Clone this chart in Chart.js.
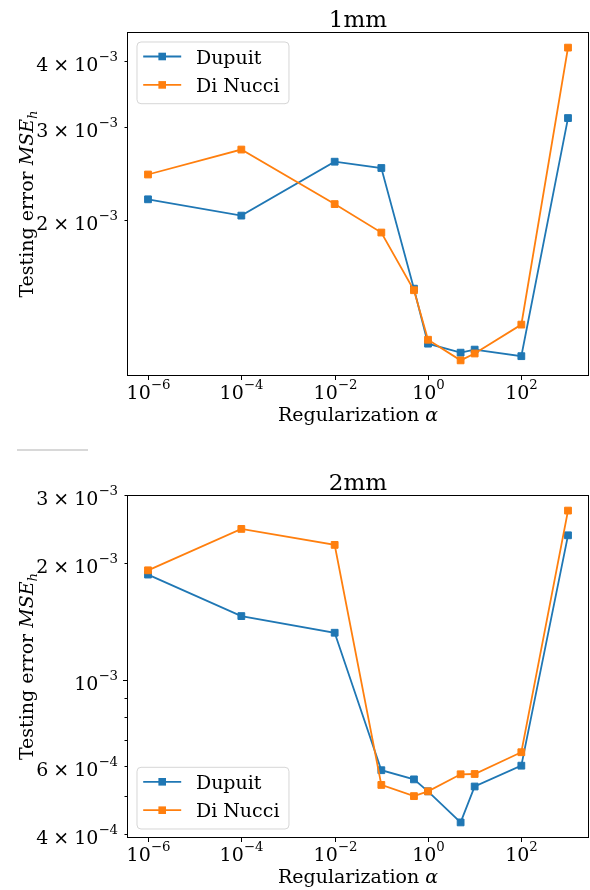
<!DOCTYPE html>
<html>
<head>
<meta charset="utf-8">
<script src="https://cdn.jsdelivr.net/npm/chart.js@4.4.1/dist/chart.umd.min.js"></script>
<style>
  html, body { margin: 0; padding: 0; background: #fff; }
  body { width: 590px; height: 890px; position: relative; overflow: hidden; }
  canvas { position: absolute; left: 0; }
  #chart1mm { top: 0; }
  #chart2mm { top: 445px; }
  .rule { position: absolute; left: 17px; top: 449px; width: 71px; height: 2px; background: #d8d8d8; }
</style>
</head>
<body>
<div class="rule"></div>
<canvas id="chart1mm" width="590" height="445"></canvas>
<canvas id="chart2mm" width="590" height="445"></canvas>

<script>
// regularization strengths
const alphas = [1e-6, 1e-4, 1e-2, 1e-1, 0.5, 1, 5, 10, 100, 1000];

// testing error, 1 mm
const dupuit1mm = [2.19e-3, 2.04e-3, 2.58e-3, 2.51e-3, 1.484e-3, 1.168e-3, 1.123e-3, 1.138e-3, 1.106e-3, 3.12e-3];
const diNucci1mm = [2.44e-3, 2.72e-3, 2.145e-3, 1.895e-3, 1.474e-3, 1.188e-3, 1.086e-3, 1.119e-3, 1.269e-3, 4.24e-3];

// testing error, 2 mm
const dupuit2mm = [1.872e-3, 1.462e-3, 1.324e-3, 5.84e-4, 5.53e-4, 5.15e-4, 4.28e-4, 5.30e-4, 6.00e-4, 2.365e-3];
const diNucci2mm = [1.92e-3, 2.457e-3, 2.234e-3, 5.35e-4, 5.005e-4, 5.15e-4, 5.70e-4, 5.71e-4, 6.50e-4, 2.74e-3];

// x ticks: 10^exp
const xTickVals = [1e-6, 1e-4, 1e-2, 1, 100];
const xTickExps = ['−6', '−4', '−2', '0', '2'];

// y ticks: [mantissa, exponent]; empty mantissa means a plain power of ten
const yTickVals1mm = [2e-3, 3e-3, 4e-3];
const yTickText1mm = [['2', '−3'], ['3', '−3'], ['4', '−3']];
const yTickVals2mm = [4e-4, 6e-4, 1e-3, 2e-3, 3e-3];
const yTickText2mm = [['4', '−4'], ['6', '−4'], ['', '−3'], ['2', '−3'], ['3', '−3']];
const yMinor2mm = [5e-4, 7e-4, 8e-4, 9e-4];

const BLUE = '#1f77b4';
const ORANGE = '#ff7f0e';

const FAMILY = '"DejaVu Serif", "Liberation Serif", serif';
const FS = 19;
const FS_SUP = 13.3;
const FS_TITLE = 23;
const RAISE = 9.5;
const TIMES_GAP = 5;

function setFont(ctx, size, italic) {
  ctx.font = (italic ? 'italic ' : '') + size + 'px ' + FAMILY;
}

function runWidth(ctx, parts) {
  let w = 0;
  parts.forEach(p => {
    setFont(ctx, p.s, p.i);
    w += ctx.measureText(p.t).width + (p.gap || 0);
  });
  return w;
}

function drawRun(ctx, parts, x, y) {
  ctx.textAlign = 'left';
  ctx.textBaseline = 'alphabetic';
  parts.forEach(p => {
    setFont(ctx, p.s, p.i);
    ctx.fillText(p.t, x, y + (p.dy || 0));
    x += ctx.measureText(p.t).width + (p.gap || 0);
  });
}

// "m × 10^e", or "10^e" without a mantissa
function powParts(mant, exp) {
  const parts = [];
  if (mant) {
    parts.push({ t: mant, s: FS, gap: TIMES_GAP });
    parts.push({ t: '×', s: FS, gap: TIMES_GAP });
  }
  parts.push({ t: '10', s: FS });
  parts.push({ t: exp, s: FS_SUP, dy: -RAISE });
  return parts;
}

// 5% margin on a log axis
function logLimits(values) {
  const lo = Math.log10(Math.min(...values));
  const hi = Math.log10(Math.max(...values));
  const m = (hi - lo) * 0.05;
  return { min: Math.pow(10, lo - m), max: Math.pow(10, hi + m) };
}

function decor(spec) {
  return {
    id: 'decor',
    afterDraw(chart) {
      const ctx = chart.ctx;
      const a = chart.chartArea;
      const xs = chart.scales.x;
      const ys = chart.scales.y;
      ctx.save();
      ctx.fillStyle = '#000';
      ctx.strokeStyle = '#000';
      ctx.lineWidth = 1;

      // axes frame
      ctx.strokeRect(a.left + 0.5, a.top + 0.5, a.right - a.left - 1, a.bottom - a.top - 1);

      // x ticks and labels
      xTickVals.forEach((v, i) => {
        const px = Math.round(xs.getPixelForValue(v)) + 0.5;
        ctx.beginPath();
        ctx.moveTo(px, a.bottom);
        ctx.lineTo(px, a.bottom + 4);
        ctx.stroke();
        const parts = powParts('', xTickExps[i]);
        const w = runWidth(ctx, parts);
        drawRun(ctx, parts, px - w / 2, a.bottom + 22.5);
      });

      // y ticks and labels
      spec.yVals.forEach((v, i) => {
        const py = Math.round(ys.getPixelForValue(v)) + 0.5;
        const major = spec.yText[i][0] === '';
        ctx.beginPath();
        ctx.moveTo(a.left, py);
        ctx.lineTo(a.left - (major ? 4 : 2.5), py);
        ctx.stroke();
        const parts = powParts(spec.yText[i][0], spec.yText[i][1]);
        const w = runWidth(ctx, parts);
        drawRun(ctx, parts, a.left - 9 - w, py + 9);
      });
      (spec.yMinor || []).forEach(v => {
        const py = Math.round(ys.getPixelForValue(v)) + 0.5;
        ctx.beginPath();
        ctx.moveTo(a.left, py);
        ctx.lineTo(a.left - 2.5, py);
        ctx.stroke();
      });

      const midX = (a.left + a.right) / 2;
      const midY = (a.top + a.bottom) / 2;

      // title
      setFont(ctx, FS_TITLE);
      ctx.textAlign = 'center';
      ctx.textBaseline = 'alphabetic';
      ctx.fillText(spec.title, midX, a.top - 5.5);

      // x axis label
      const xl = [{ t: 'Regularization ', s: FS }, { t: 'α', s: FS, i: true }];
      drawRun(ctx, xl, midX - runWidth(ctx, xl) / 2, a.bottom + 45);

      // y axis label
      const yl = [
        { t: 'Testing error ', s: FS },
        { t: 'MSE', s: FS, i: true },
        { t: 'h', s: FS_SUP, i: true, dy: 4 }
      ];
      ctx.save();
      ctx.translate(33, midY);
      ctx.rotate(-Math.PI / 2);
      drawRun(ctx, yl, -runWidth(ctx, yl) / 2, 0);
      ctx.restore();

      // legend
      const sets = chart.data.datasets;
      setFont(ctx, FS);
      const textW = Math.max(...sets.map(d => ctx.measureText(d.label).width));
      const pad = 0.4 * FS, handle = 2 * FS, gap = 0.8 * FS, rowH = 28.4;
      const boxW = pad * 2 + handle + gap + textW;
      const boxH = 61.7;
      const bx = a.left + 9.5;
      const by = spec.legendBottom ? a.bottom - 9.5 - boxH : a.top + 9.5;
      ctx.beginPath();
      ctx.roundRect(bx + 0.5, by + 0.5, boxW, boxH, 4);
      ctx.fillStyle = 'rgba(255,255,255,0.8)';
      ctx.fill();
      ctx.strokeStyle = 'rgba(204,204,204,0.8)';
      ctx.stroke();
      sets.slice().sort((p, q) => q.order - p.order).forEach((d, i) => {
        const cy = by + 15 + i * rowH;
        const lx = bx + 6.7;
        ctx.strokeStyle = d.borderColor;
        ctx.lineWidth = d.borderWidth;
        ctx.beginPath();
        ctx.moveTo(lx, cy);
        ctx.lineTo(lx + handle, cy);
        ctx.stroke();
        ctx.fillStyle = d.backgroundColor;
        ctx.fillRect(lx + handle / 2 - 3.8, cy - 3.8, 7.6, 7.6);
        ctx.fillStyle = '#000';
        setFont(ctx, FS);
        ctx.textAlign = 'left';
        ctx.fillText(d.label, lx + handle + gap - 0.5, cy + 7);
      });

      ctx.restore();
    }
  };
}

function series(label, values, color, order) {
  return {
    label: label,
    data: alphas.map((x, i) => ({ x: x, y: values[i] })),
    borderColor: color,
    backgroundColor: color,
    pointBorderColor: color,
    pointBackgroundColor: color,
    pointStyle: 'rect',
    pointRadius: 4.8,
    pointBorderWidth: 1,
    borderWidth: 1.8,
    tension: 0,
    order: order
  };
}

function makeChart(id, title, dupuit, diNucci, spec) {
  const xLim = logLimits(alphas);
  const yLim = logLimits(dupuit.concat(diNucci));
  spec.title = title;
  return new Chart(document.getElementById(id), {
    type: 'line',
    data: {
      datasets: [
        series('Dupuit', dupuit, BLUE, 1),
        series('Di Nucci', diNucci, ORANGE, 0)
      ]
    },
    options: {
      responsive: false,
      animation: false,
      events: [],
      layout: { autoPadding: false, padding: { top: spec.padTop, right: 1, left: 0, bottom: 0 } },
      plugins: { legend: { display: false }, tooltip: { enabled: false } },
      scales: {
        x: {
          type: 'logarithmic', position: 'bottom', bounds: 'data',
          min: xLim.min, max: xLim.max,
          grid: { display: false }, border: { display: false }, ticks: { display: false },
          afterFit(s) { s.height = spec.xAxisH; }
        },
        y: {
          type: 'logarithmic', position: 'left', bounds: 'data',
          min: yLim.min, max: yLim.max,
          grid: { display: false }, border: { display: false }, ticks: { display: false },
          afterFit(s) { s.width = 127; }
        }
      }
    },
    plugins: [decor(spec)]
  });
}

makeChart('chart1mm', '1mm', dupuit1mm, diNucci1mm, {
  padTop: 32, xAxisH: 69,
  yVals: yTickVals1mm, yText: yTickText1mm, legendBottom: false
});

makeChart('chart2mm', '2mm', dupuit2mm, diNucci2mm, {
  padTop: 50, xAxisH: 52,
  yVals: yTickVals2mm, yText: yTickText2mm, yMinor: yMinor2mm, legendBottom: true
});
</script>
</body>
</html>
